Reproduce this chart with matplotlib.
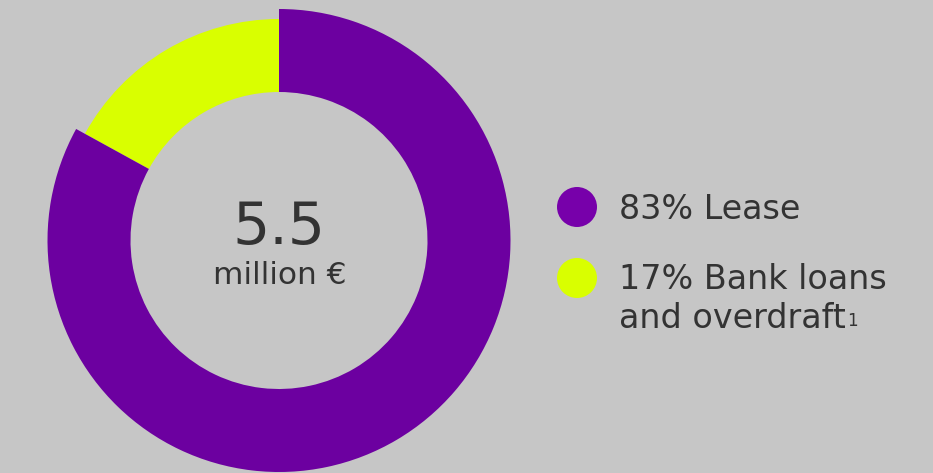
import matplotlib.pyplot as plt
from matplotlib.patches import Circle

# funding split, in percent
labels = ["Lease", "Bank loans\nand overdraft"]
shares = [83, 17]
total = "5.5"
unit = "million €"
footnote = "1"

bg = "#c6c6c6"
ring_colors = ["#6c00a0", "#d9ff00"]
dot_colors = ["#7700aa", "#d9ff00"]
text_color = "#333333"

W, H = 933, 473
fig = plt.figure(figsize=(W / 100, H / 100), dpi=100, facecolor=bg)
ax = fig.add_axes([0, 0, 1, 1])
ax.set_facecolor(bg)

cx, cy = 279, H - 240.5
r_out, r_in = 231.5, 148.5

wedges, _ = ax.pie(shares[::-1], colors=ring_colors[::-1], startangle=90,
                   counterclock=True, center=(cx, cy), radius=r_out,
                   wedgeprops=dict(width=r_out - r_in, linewidth=0),
                   frame=True)
# the smaller slice sits a little inside the outer edge
wedges[0].set_radius(221.5)
wedges[0].set_width(221.5 - r_in)

ax.set_xlim(0, W)
ax.set_ylim(0, H)
ax.set_aspect("equal")
ax.axis("off")

ax.text(cx, H - 244, total, ha="center", va="baseline", fontsize=42,
        color=text_color)
ax.text(cx + 1, H - 284, unit, ha="center", va="baseline", fontsize=22.5,
        color=text_color)

# legend
fs = 24
ax.add_patch(Circle((577, H - 207), 20, color=dot_colors[0], lw=0))
ax.text(619, H - 219, f"{shares[0]}% {labels[0]}", ha="left",
        va="baseline", fontsize=fs, color=text_color)

ax.add_patch(Circle((577, H - 278), 20, color=dot_colors[1], lw=0))
first, second = labels[1].split("\n")
ax.text(619, H - 289, f"{shares[1]}% {first}", ha="left",
        va="baseline", fontsize=fs, color=text_color)
last = ax.text(619, H - 328, second, ha="left",
               va="baseline", fontsize=fs, color=text_color)

# small footnote mark right after the last line
fig.canvas.draw()
end_x = last.get_window_extent().x1
ax.text(end_x + 1, H - 326, footnote, ha="left", va="baseline",
        fontsize=12, color=text_color)

fig.savefig("out.png", dpi=100, facecolor=bg)
